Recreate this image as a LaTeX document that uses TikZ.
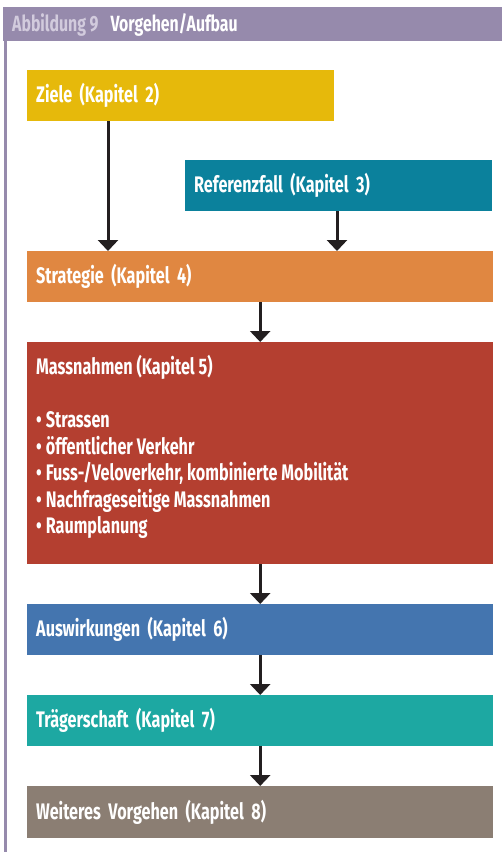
\documentclass[tikz,border=0pt]{standalone}
\usepackage{fontspec}
\setmainfont[FakeStretch=0.72]{Fira Sans}
\usetikzlibrary{arrows.meta,calc}

\definecolor{framec}{HTML}{968AAC}
\definecolor{figlabel}{HTML}{D2CBDD}
\definecolor{zielec}{HTML}{E6B90B}
\definecolor{refc}{HTML}{0B819C}
\definecolor{stratc}{HTML}{E08741}
\definecolor{massc}{HTML}{B43F30}
\definecolor{auswc}{HTML}{4475AF}
\definecolor{traegc}{HTML}{1DA8A2}
\definecolor{weiterc}{HTML}{8B7E73}
\definecolor{arrowc}{HTML}{231F20}

\newcommand{\itembullet}{•\hspace{4pt}}

\begin{document}
\begin{tikzpicture}[x=1pt,y=-1pt,
  box/.style={rectangle, draw=none, anchor=north west, inner xsep=9pt, inner ysep=0pt,
    align=left, text=white, font=\fontsize{22.5}{26}\selectfont\bfseries},
  listline/.style={anchor=base west, inner sep=0pt, text=white,
    font=\fontsize{22.5}{26}\selectfont\bfseries},
  arr/.style={draw=arrowc, line width=3pt, -{Triangle[width=20pt,length=11pt]}}
]
\useasboundingbox (0,0) rectangle (502,852);

% frame: title bar and left rule
\fill[framec] (3,7) rectangle (502,41);
\fill[framec] (4,41) rectangle (7,852);
\node[anchor=base west, inner sep=0pt, font=\fontsize{22}{24}\selectfont\bfseries]
  (title) at (12,31.5) {\textcolor{figlabel}{Abbildung 9}\hspace{12pt}\textcolor{white}{Vorgehen/Aufbau}};

% boxes
\node[box, fill=zielec, minimum width=307pt, minimum height=51pt, text width=289pt]
  (ziele) at (27,70) {Ziele (Kapitel 2)};
\node[box, fill=refc, minimum width=307pt, minimum height=51pt, text width=289pt]
  (ref) at (185,160) {Referenzfall (Kapitel 3)};
\node[box, fill=stratc, minimum width=466pt, minimum height=51pt, text width=448pt]
  (strat) at (27,251) {Strategie (Kapitel 4)};
\node[box, fill=massc, minimum width=466pt, minimum height=222pt, text width=448pt]
  (mass) at (27,342) {};
\node[box, fill=auswc, minimum width=466pt, minimum height=51pt, text width=448pt]
  (ausw) at (27,604) {Auswirkungen (Kapitel 6)};
\node[box, fill=traegc, minimum width=466pt, minimum height=51pt, text width=448pt]
  (traeg) at (27,695) {Trägerschaft (Kapitel 7)};
\node[box, fill=weiterc, minimum width=466pt, minimum height=52pt, text width=448pt]
  (weiter) at (27,786) {Weiteres Vorgehen (Kapitel 8)};

% contents of the measures box
\node[listline] (masstitle) at ([shift={(9pt,-32.5pt)}]mass.north west) {Massnahmen (Kapitel 5)};
\node[listline] (m1) at ([shift={(9pt,-85.5pt)}]mass.north west) {\itembullet Strassen};
\node[listline] (m2) at ([shift={(9pt,-112pt)}]mass.north west) {\itembullet öffentlicher Verkehr};
\node[listline] (m3) at ([shift={(9pt,-138.5pt)}]mass.north west) {\itembullet Fuss-/Veloverkehr, kombinierte Mobilität};
\node[listline] (m4) at ([shift={(9pt,-165pt)}]mass.north west) {\itembullet Nachfrageseitige Massnahmen};
\node[listline] (m5) at ([shift={(9pt,-191.5pt)}]mass.north west) {\itembullet Raumplanung};

% connectors
\coordinate (zfoot) at ([xshift=81pt]ziele.south west);
\coordinate (rfoot) at ([xshift=152pt]ref.south west);
\draw[arr] (zfoot) -- (zfoot |- strat.north);
\draw[arr] (rfoot) -- (rfoot |- strat.north);
\draw[arr] (strat.south) -- (mass.north);
\draw[arr] (mass.south) -- (ausw.north);
\draw[arr] (ausw.south) -- (traeg.north);
\draw[arr] (traeg.south) -- (weiter.north);
\end{tikzpicture}
\end{document}
